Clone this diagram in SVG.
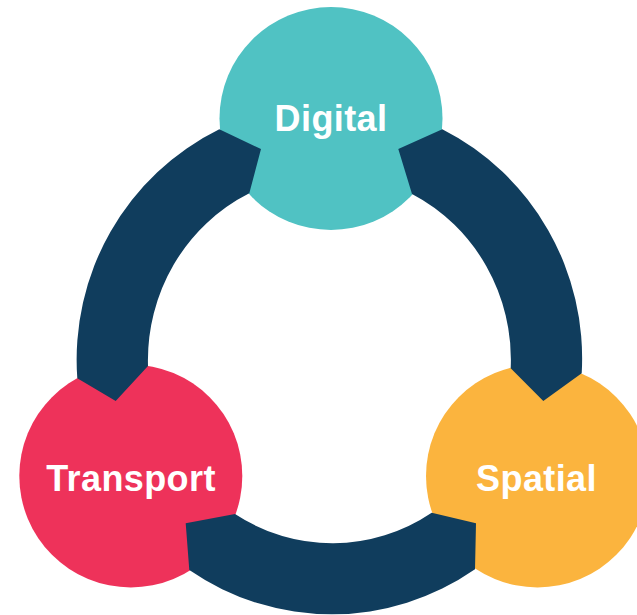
<svg xmlns="http://www.w3.org/2000/svg" width="637" height="615" viewBox="0 0 637 615">
  <style>
    .label { font-family: "Liberation Sans", Arial, Helvetica, sans-serif; font-weight: bold; font-size: 36px; letter-spacing: 0.4px; fill: #ffffff; text-anchor: middle; }
    .link { fill: #103d5d; stroke: none; }
  </style>
  <rect width="637" height="615" fill="#ffffff"/>
  <g id="node-digital">
    <circle cx="331" cy="118.5" r="111.5" fill="#50c2c3"/>
    <text class="label" x="331" y="131">Digital</text>
  </g>
  <g id="node-transport">
    <circle cx="130.8" cy="476" r="111.5" fill="#ee325a"/>
    <text class="label" x="131" y="490.7">Transport</text>
  </g>
  <g id="node-spatial">
    <circle cx="537.5" cy="476" r="111.5" fill="#fbb43e"/>
    <text class="label" x="536.5" y="490.7">Spatial</text>
  </g>
  <g id="connectors">
    <path class="link" d="M 219.3,129.3 A 253 256 0 0 0 77.3,378.3 L 115.7,401 L 148,366 A 181 186 0 0 1 249.3,193.3 L 261,149 Z"/>
    <path class="link" d="M 442.3,129.3 A 253 256 0 0 1 581.7,373.3 L 543.3,401 L 510.7,368.3 A 181 186 0 0 0 412,194 L 398.3,149 Z"/>
    <path class="link" d="M 189.3,570 A 253 256 0 0 0 475,569.3 L 476,523.3 L 431.7,512.7 A 181 186 0 0 1 235,514 L 185.7,523.3 Z"/>
  </g>
</svg>
